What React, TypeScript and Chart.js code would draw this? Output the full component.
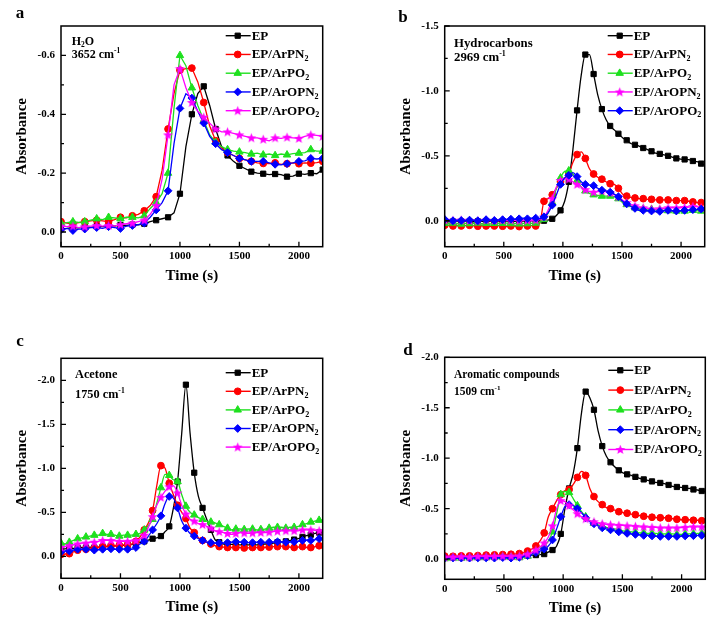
import React, { useEffect, useRef } from 'react';
import { Chart, registerables } from 'chart.js';

Chart.register(...registerables);

const FONT = "'Liberation Serif', 'Times New Roman', Times, serif";
const BLACK = '#000000';
const RED = '#ff0000';
const GREEN = '#1ee01e';
const BLUE = '#0000ff';
const MAGENTA = '#ff00ff';

// ---------- Panel a (H2O, 3652 cm-1) ----------
const TIME_A = [0, 50, 100, 150, 200, 250, 300, 350, 400, 450, 500, 550, 600, 650, 700, 750, 800, 850, 900, 950,
  1000, 1050, 1100, 1150, 1200, 1250, 1300, 1350, 1400, 1450, 1500, 1550, 1600, 1650, 1700, 1750, 1800, 1850, 1900, 1950,
  2000, 2050, 2100, 2150, 2200];
const A_EP = [-0.010, -0.012, -0.015, -0.014, -0.018, -0.016, -0.020, -0.018, -0.022, -0.020,
  -0.024, -0.022, -0.025, -0.024, -0.028, -0.035, -0.040, -0.045, -0.050, -0.065,
  -0.13, -0.29, -0.40, -0.47, -0.495, -0.43, -0.35, -0.29, -0.26, -0.24,
  -0.225, -0.215, -0.205, -0.2, -0.198, -0.195, -0.197, -0.195, -0.188, -0.19,
  -0.198, -0.196, -0.2, -0.198, -0.212];
const A_ARPN2 = [-0.035, -0.03, -0.028, -0.032, -0.035, -0.038, -0.04, -0.038, -0.035, -0.042,
  -0.05, -0.048, -0.055, -0.06, -0.072, -0.09, -0.12, -0.21, -0.35, -0.47,
  -0.55, -0.555, -0.557, -0.51, -0.44, -0.36, -0.31, -0.285, -0.27, -0.26,
  -0.25, -0.245, -0.24, -0.235, -0.233, -0.232, -0.235, -0.23, -0.232, -0.235,
  -0.232, -0.235, -0.234, -0.236, -0.24];
const A_ARPO2 = [-0.03, -0.032, -0.035, -0.033, -0.035, -0.04, -0.045, -0.042, -0.05, -0.048,
  -0.045, -0.05, -0.05, -0.048, -0.055, -0.08, -0.1, -0.13, -0.2, -0.42,
  -0.6, -0.565, -0.49, -0.43, -0.38, -0.33, -0.305, -0.29, -0.28, -0.275,
  -0.272, -0.27, -0.265, -0.268, -0.262, -0.265, -0.26, -0.265, -0.262, -0.266,
  -0.268, -0.27, -0.28, -0.275, -0.275];
const A_AROPN2 = [-0.008, -0.012, -0.005, -0.01, -0.01, -0.015, -0.015, -0.012, -0.018, -0.015,
  -0.012, -0.02, -0.022, -0.025, -0.03, -0.05, -0.075, -0.1, -0.14, -0.3,
  -0.42, -0.47, -0.455, -0.41, -0.37, -0.325, -0.3, -0.28, -0.27, -0.26,
  -0.25, -0.245, -0.24, -0.24, -0.24, -0.235, -0.23, -0.228, -0.232, -0.235,
  -0.24, -0.242, -0.25, -0.248, -0.25];
const A_AROPO2 = [-0.02, -0.018, -0.02, -0.015, -0.018, -0.02, -0.022, -0.02, -0.022, -0.02,
  -0.025, -0.028, -0.03, -0.035, -0.04, -0.06, -0.09, -0.18, -0.33, -0.5,
  -0.555, -0.49, -0.44, -0.41, -0.39, -0.37, -0.35, -0.34, -0.34, -0.335,
  -0.33, -0.325, -0.32, -0.32, -0.315, -0.31, -0.32, -0.318, -0.322, -0.32,
  -0.318, -0.325, -0.33, -0.328, -0.325];

// ---------- Shared time grid for panels b, c, d ----------
const TIME_BCD = [0, 35, 70, 105, 140, 175, 210, 245,
  280, 315, 350, 385, 420, 455, 490, 525,
  560, 595, 630, 665, 700, 735, 770, 805,
  840, 875, 910, 945, 980, 1015, 1050, 1085,
  1120, 1155, 1190, 1225, 1260, 1295, 1330, 1365,
  1400, 1435, 1470, 1505, 1540, 1575, 1610, 1645,
  1680, 1715, 1750, 1785, 1820, 1855, 1890, 1925,
  1960, 1995, 2030, 2065, 2100, 2135, 2170, 2205];

// ---------- Panel b (Hydrocarbons, 2969 cm-1) ----------
const B_EP = [0.005, 0.008, 0.006, 0.004, 0.007, 0.005, 0.006, 0.008,
  0.005, 0.004, 0.006, 0.005, 0.007, 0.006, 0.004, 0.005,
  0.006, 0.005, 0.004, 0.003, 0.002, 0.0, 0.0, 0.0,
  0.0, -0.005, -0.015, -0.04, -0.08, -0.15, -0.3, -0.55,
  -0.85, -1.12, -1.28, -1.28, -1.13, -0.97, -0.86, -0.78,
  -0.73, -0.7, -0.67, -0.64, -0.62, -0.595, -0.585, -0.575,
  -0.56, -0.548, -0.535, -0.52, -0.515, -0.508, -0.5, -0.49,
  -0.48, -0.475, -0.472, -0.47, -0.46, -0.455, -0.44, -0.43];
const B_ARPN2 = [0.035, 0.038, 0.04, 0.035, 0.04, 0.038, 0.035, 0.04,
  0.042, 0.038, 0.04, 0.045, 0.04, 0.038, 0.042, 0.045,
  0.04, 0.042, 0.045, 0.04, 0.04, 0.038, 0.04, 0.02,
  -0.15, -0.17, -0.2, -0.25, -0.3, -0.33, -0.36, -0.45,
  -0.51, -0.53, -0.48, -0.4, -0.36, -0.335, -0.32, -0.3,
  -0.285, -0.28, -0.25, -0.205, -0.19, -0.18, -0.175, -0.17,
  -0.17, -0.165, -0.165, -0.16, -0.16, -0.16, -0.16, -0.158,
  -0.155, -0.155, -0.155, -0.15, -0.145, -0.14, -0.14, -0.14];
const B_ARPO2 = [0.02, 0.022, 0.018, 0.02, 0.025, 0.02, 0.022, 0.02,
  0.018, 0.022, 0.02, 0.024, 0.02, 0.022, 0.02, 0.018,
  0.022, 0.02, 0.024, 0.02, 0.022, 0.02, 0.018, 0.015,
  -0.01, -0.06, -0.14, -0.25, -0.33, -0.38, -0.385, -0.36,
  -0.31, -0.26, -0.23, -0.21, -0.2, -0.195, -0.19, -0.19,
  -0.19, -0.185, -0.17, -0.14, -0.125, -0.115, -0.1, -0.09,
  -0.09, -0.09, -0.088, -0.085, -0.082, -0.08, -0.078, -0.075,
  -0.075, -0.072, -0.075, -0.078, -0.08, -0.078, -0.075, -0.075];
const B_AROPN2 = [-0.005, 0.0, -0.003, 0.0, -0.005, 0.0, -0.002, -0.005,
  0.0, -0.003, -0.005, 0.0, -0.002, 0.0, -0.004, 0.0,
  -0.003, -0.002, 0.0, -0.003, -0.002, 0.0, -0.005, -0.01,
  -0.03, -0.08, -0.17, -0.26, -0.31, -0.33, -0.32, -0.3,
  -0.28, -0.26, -0.24, -0.225, -0.22, -0.225, -0.23, -0.225,
  -0.215, -0.2, -0.185, -0.16, -0.14, -0.125, -0.115, -0.105,
  -0.1, -0.095, -0.09, -0.09, -0.092, -0.095, -0.1, -0.1,
  -0.1, -0.1, -0.102, -0.105, -0.11, -0.108, -0.1, -0.1];
const B_AROPO2 = [-0.01, -0.005, 0.0, -0.005, -0.002, 0.0, -0.005, -0.003,
  0.0, -0.005, -0.008, -0.005, -0.002, -0.005, -0.008, -0.01,
  -0.012, -0.01, -0.015, -0.02, -0.015, -0.02, -0.02, -0.015,
  -0.03, -0.06, -0.12, -0.2, -0.28, -0.33, -0.35, -0.37,
  -0.34, -0.3, -0.28, -0.275, -0.27, -0.25, -0.235, -0.23,
  -0.22, -0.205, -0.185, -0.15, -0.13, -0.11, -0.095, -0.08,
  -0.08, -0.078, -0.075, -0.07, -0.072, -0.078, -0.08, -0.078,
  -0.075, -0.078, -0.08, -0.082, -0.085, -0.088, -0.09, -0.09];

// ---------- Panel c (Acetone, 1750 cm-1) ----------
const C_EP = [-0.08, -0.085, -0.09, -0.09, -0.095, -0.1, -0.1, -0.105,
  -0.1, -0.105, -0.11, -0.11, -0.115, -0.12, -0.12, -0.125,
  -0.13, -0.135, -0.145, -0.155, -0.17, -0.185, -0.2, -0.21,
  -0.23, -0.28, -0.34, -0.55, -0.85, -1.4, -1.95, -1.4,
  -0.95, -0.68, -0.55, -0.42, -0.3, -0.19, -0.16, -0.14,
  -0.14, -0.135, -0.135, -0.13, -0.13, -0.13, -0.13, -0.13,
  -0.135, -0.14, -0.14, -0.15, -0.16, -0.165, -0.17, -0.18,
  -0.19, -0.2, -0.22, -0.235, -0.245, -0.26, -0.27, -0.27];
const C_ARPN2 = [-0.02, -0.025, -0.03, -0.05, -0.07, -0.075, -0.08, -0.085,
  -0.09, -0.1, -0.11, -0.115, -0.12, -0.12, -0.125, -0.13,
  -0.13, -0.14, -0.17, -0.22, -0.3, -0.38, -0.52, -0.8,
  -1.03, -1.0, -0.83, -0.7, -0.58, -0.5, -0.43, -0.32,
  -0.27, -0.21, -0.18, -0.16, -0.14, -0.12, -0.11, -0.105,
  -0.1, -0.1, -0.1, -0.1, -0.095, -0.095, -0.1, -0.1,
  -0.1, -0.1, -0.105, -0.11, -0.11, -0.115, -0.11, -0.105,
  -0.1, -0.105, -0.11, -0.1, -0.1, -0.11, -0.12, -0.12];
const C_ARPO2 = [-0.15, -0.14, -0.16, -0.18, -0.2, -0.21, -0.22, -0.23,
  -0.24, -0.24, -0.26, -0.25, -0.25, -0.24, -0.23, -0.24,
  -0.24, -0.24, -0.25, -0.26, -0.3, -0.35, -0.42, -0.6,
  -0.78, -0.93, -0.92, -0.87, -0.85, -0.7, -0.57, -0.5,
  -0.47, -0.44, -0.42, -0.4, -0.39, -0.38, -0.36, -0.34,
  -0.32, -0.3, -0.31, -0.31, -0.305, -0.31, -0.31, -0.3,
  -0.305, -0.31, -0.32, -0.33, -0.33, -0.33, -0.32, -0.33,
  -0.33, -0.34, -0.36, -0.37, -0.39, -0.4, -0.41, -0.41];
const C_AROPN2 = [-0.05, -0.06, -0.06, -0.07, -0.08, -0.08, -0.08, -0.075,
  -0.07, -0.075, -0.08, -0.08, -0.085, -0.08, -0.08, -0.085,
  -0.08, -0.08, -0.1, -0.14, -0.17, -0.23, -0.3, -0.37,
  -0.46, -0.6, -0.68, -0.66, -0.55, -0.4, -0.32, -0.26,
  -0.23, -0.2, -0.18, -0.16, -0.155, -0.15, -0.15, -0.15,
  -0.155, -0.16, -0.165, -0.16, -0.16, -0.155, -0.155, -0.16,
  -0.16, -0.155, -0.16, -0.16, -0.165, -0.16, -0.16, -0.165,
  -0.165, -0.17, -0.18, -0.185, -0.18, -0.19, -0.2, -0.2];
const C_AROPO2 = [-0.1, -0.11, -0.12, -0.13, -0.14, -0.15, -0.15, -0.16,
  -0.16, -0.17, -0.18, -0.18, -0.18, -0.175, -0.17, -0.17,
  -0.17, -0.175, -0.18, -0.2, -0.24, -0.33, -0.45, -0.58,
  -0.67, -0.74, -0.79, -0.8, -0.72, -0.58, -0.48, -0.42,
  -0.4, -0.37, -0.36, -0.34, -0.32, -0.29, -0.28, -0.27,
  -0.26, -0.25, -0.26, -0.27, -0.265, -0.26, -0.265, -0.27,
  -0.27, -0.27, -0.275, -0.28, -0.285, -0.29, -0.29, -0.29,
  -0.29, -0.29, -0.3, -0.3, -0.3, -0.295, -0.29, -0.29];

// ---------- Panel d (Aromatic compounds, 1509 cm-1) ----------
const D_EP = [-0.02, -0.02, -0.022, -0.02, -0.022, -0.025, -0.022, -0.025,
  -0.025, -0.028, -0.025, -0.028, -0.03, -0.028, -0.03, -0.03,
  -0.032, -0.03, -0.035, -0.035, -0.038, -0.04, -0.04, -0.045,
  -0.05, -0.07, -0.09, -0.13, -0.25, -0.5, -0.7, -0.85,
  -1.1, -1.45, -1.66, -1.6, -1.48, -1.27, -1.12, -1.02,
  -0.96, -0.915, -0.88, -0.855, -0.84, -0.83, -0.815, -0.8,
  -0.79, -0.78, -0.77, -0.76, -0.755, -0.748, -0.735, -0.72,
  -0.715, -0.71, -0.705, -0.7, -0.69, -0.685, -0.675, -0.67];
const D_ARPN2 = [-0.03, -0.03, -0.028, -0.03, -0.032, -0.03, -0.032, -0.035,
  -0.035, -0.038, -0.04, -0.04, -0.042, -0.042, -0.045, -0.045,
  -0.048, -0.05, -0.055, -0.065, -0.08, -0.1, -0.13, -0.18,
  -0.26, -0.42, -0.5, -0.58, -0.64, -0.68, -0.69, -0.74,
  -0.81, -0.87, -0.83, -0.7, -0.62, -0.57, -0.54, -0.51,
  -0.5, -0.485, -0.47, -0.46, -0.455, -0.445, -0.44, -0.43,
  -0.425, -0.42, -0.415, -0.412, -0.41, -0.41, -0.405, -0.4,
  -0.395, -0.39, -0.39, -0.39, -0.385, -0.385, -0.38, -0.38];
const D_ARPO2 = [-0.005, -0.01, -0.01, -0.012, -0.01, -0.015, -0.012, -0.015,
  -0.015, -0.018, -0.015, -0.018, -0.02, -0.018, -0.02, -0.02,
  -0.018, -0.015, -0.015, -0.02, -0.03, -0.045, -0.07, -0.1,
  -0.13, -0.18, -0.27, -0.45, -0.64, -0.67, -0.66, -0.6,
  -0.53, -0.47, -0.42, -0.38, -0.355, -0.34, -0.33, -0.315,
  -0.305, -0.3, -0.29, -0.28, -0.275, -0.27, -0.265, -0.26,
  -0.26, -0.255, -0.255, -0.255, -0.25, -0.25, -0.25, -0.25,
  -0.245, -0.245, -0.25, -0.25, -0.252, -0.255, -0.255, -0.26];
const D_AROPN2 = [-0.01, -0.01, -0.012, -0.01, -0.01, -0.012, -0.01, -0.015,
  -0.012, -0.01, -0.012, -0.015, -0.01, -0.012, -0.015, -0.012,
  -0.01, -0.015, -0.018, -0.025, -0.035, -0.05, -0.065, -0.08,
  -0.1, -0.13, -0.19, -0.3, -0.42, -0.52, -0.54, -0.53,
  -0.5, -0.46, -0.41, -0.37, -0.35, -0.33, -0.31, -0.3,
  -0.29, -0.28, -0.27, -0.26, -0.255, -0.25, -0.245, -0.24,
  -0.235, -0.235, -0.23, -0.225, -0.225, -0.225, -0.225, -0.225,
  -0.225, -0.228, -0.23, -0.23, -0.232, -0.235, -0.235, -0.24];
const D_AROPO2 = [-0.02, -0.02, -0.022, -0.02, -0.025, -0.025, -0.022, -0.025,
  -0.028, -0.025, -0.028, -0.025, -0.03, -0.028, -0.03, -0.028,
  -0.03, -0.03, -0.032, -0.04, -0.05, -0.065, -0.09, -0.12,
  -0.16, -0.22, -0.33, -0.5, -0.58, -0.57, -0.53, -0.49,
  -0.45, -0.42, -0.4, -0.38, -0.37, -0.36, -0.35, -0.345,
  -0.34, -0.34, -0.335, -0.335, -0.33, -0.33, -0.325, -0.32,
  -0.32, -0.318, -0.315, -0.315, -0.31, -0.31, -0.31, -0.31,
  -0.31, -0.312, -0.315, -0.32, -0.32, -0.32, -0.32, -0.32];

// ---------- Axis ticks ----------
const X_TICKS = [0, 500, 1000, 1500, 2000];
const X_MINOR = [250, 750, 1250, 1750];
const A_Y_TICKS = [-0.6, -0.4, -0.2, 0];
const A_Y_MINOR = [-0.5, -0.3, -0.1];
const B_Y_TICKS = [-1.5, -1.0, -0.5, 0];
const B_Y_MINOR = [-1.25, -0.75, -0.25];
const CD_Y_TICKS = [-2.0, -1.5, -1.0, -0.5, 0];
const CD_Y_MINOR = [-1.75, -1.25, -0.75, -0.25];

type Part = [string, string];

const RADIUS: Record<string, number> = { rect: 3.7, circle: 3.4, triangle: 4.3, rectRot: 3.9, star: 4 };

function makeStar(color: string) {
  const c = document.createElement('canvas');
  c.width = 11;
  c.height = 11;
  const g = c.getContext('2d')!;
  g.fillStyle = color;
  g.beginPath();
  for (let i = 0; i < 10; i++) {
    const r = i % 2 === 0 ? 5.2 : 2.2;
    const a = -Math.PI / 2 + (i * Math.PI) / 5;
    const px = 5.5 + r * Math.cos(a);
    const py = 5.9 + r * Math.sin(a);
    if (i === 0) g.moveTo(px, py);
    else g.lineTo(px, py);
  }
  g.closePath();
  g.fill();
  return c;
}

function drawMarker(ctx: CanvasRenderingContext2D, style: string, x: number, y: number, color: string, star: HTMLCanvasElement) {
  ctx.save();
  if (style === 'star') {
    ctx.drawImage(star, x - star.width / 2, y - star.height / 2);
    ctx.restore();
    return;
  }
  const r = RADIUS[style];
  ctx.fillStyle = color;
  ctx.strokeStyle = color;
  ctx.lineWidth = 1;
  ctx.beginPath();
  if (style === 'rect') {
    const s = r * Math.SQRT1_2;
    ctx.rect(x - s, y - s, 2 * s, 2 * s);
  } else if (style === 'circle') {
    ctx.arc(x, y, r, 0, Math.PI * 2);
  } else if (style === 'triangle') {
    for (let i = 0; i < 3; i++) {
      const a = (i * 2 * Math.PI) / 3;
      const px = x + Math.sin(a) * r;
      const py = y - Math.cos(a) * r;
      if (i === 0) ctx.moveTo(px, py);
      else ctx.lineTo(px, py);
    }
    ctx.closePath();
  } else {
    ctx.moveTo(x, y - r);
    ctx.lineTo(x + r, y);
    ctx.lineTo(x, y + r);
    ctx.lineTo(x - r, y);
    ctx.closePath();
  }
  ctx.fill();
  ctx.stroke();
  ctx.restore();
}

function drawRich(ctx: CanvasRenderingContext2D, x: number, y: number, parts: Part[], size: number) {
  ctx.textAlign = 'left';
  ctx.textBaseline = 'middle';
  ctx.fillStyle = '#000';
  let cx = x;
  for (const [t, k] of parts) {
    const s = k ? size * 0.62 : size;
    ctx.font = `bold ${s}px ${FONT}`;
    const dy = k === 'sub' ? size * 0.32 : k === 'sup' ? -size * 0.3 : 0;
    ctx.fillText(t, cx, y + dy);
    cx += ctx.measureText(t).width;
  }
}

interface Series { name: string; sub: string; values: number[]; color: string; marker: string }
interface Panel {
  letter: string; letterX: number; letterY: number;
  L: number; T: number; R: number; B: number;
  yMin: number; yMax: number; yTicks: number[]; yMinor: number[];
  times: number[]; smooth: boolean; markEvery: number;
  series: Series[];
  notes: { parts: Part[]; dy: number }[]; noteDx: number; noteSize: number;
  legendTop: number; legendStep: number;
}

const NAMES = ['EP', 'EP/ArPN', 'EP/ArPO', 'EP/ArOPN', 'EP/ArOPO'];

const PANELS: Panel[] = [
  {
    letter: 'a', letterX: 20, letterY: 14, L: 61, T: 26, R: 322.7, B: 246.7,
    yMin: -0.7, yMax: 0.05, yTicks: A_Y_TICKS, yMinor: A_Y_MINOR,
    times: TIME_A, smooth: false, markEvery: 2,
    series: [
      { name: NAMES[0], sub: '', values: A_EP, color: BLACK, marker: 'rect' },
      { name: NAMES[1], sub: '2', values: A_ARPN2, color: RED, marker: 'circle' },
      { name: NAMES[2], sub: '2', values: A_ARPO2, color: GREEN, marker: 'triangle' },
      { name: NAMES[3], sub: '2', values: A_AROPN2, color: BLUE, marker: 'rectRot' },
      { name: NAMES[4], sub: '2', values: A_AROPO2, color: MAGENTA, marker: 'star' },
    ],
    notes: [
      { parts: [['H', ''], ['2', 'sub'], ['O', '']], dy: 15.7 },
      { parts: [['3652 cm', ''], ['-1', 'sup']], dy: 29 },
    ],
    noteDx: 10.7, noteSize: 12, legendTop: 9.7, legendStep: 18.75,
  },
  {
    letter: 'b', letterX: 403, letterY: 18, L: 444.7, T: 26, R: 704.7, B: 246.7,
    yMin: -1.5, yMax: 0.2, yTicks: B_Y_TICKS, yMinor: B_Y_MINOR,
    times: TIME_BCD, smooth: true, markEvery: 2,
    series: [
      { name: NAMES[0], sub: '', values: B_EP, color: BLACK, marker: 'rect' },
      { name: NAMES[1], sub: '2', values: B_ARPN2, color: RED, marker: 'circle' },
      { name: NAMES[2], sub: '2', values: B_ARPO2, color: GREEN, marker: 'triangle' },
      { name: NAMES[3], sub: '2', values: B_AROPN2, color: MAGENTA, marker: 'star' },
      { name: NAMES[4], sub: '2', values: B_AROPO2, color: BLUE, marker: 'rectRot' },
    ],
    notes: [
      { parts: [['Hydrocarbons', '']], dy: 18 },
      { parts: [['2969 cm', ''], ['-1', 'sup']], dy: 31.3 },
    ],
    noteDx: 9.3, noteSize: 12.8, legendTop: 9.7, legendStep: 18.75,
  },
  {
    letter: 'c', letterX: 20, letterY: 342, L: 61, T: 358.3, R: 322.7, B: 578.3,
    yMin: -2.25, yMax: 0.25, yTicks: CD_Y_TICKS, yMinor: CD_Y_MINOR,
    times: TIME_BCD, smooth: true, markEvery: 2,
    series: [
      { name: NAMES[0], sub: '', values: C_EP, color: BLACK, marker: 'rect' },
      { name: NAMES[1], sub: '2', values: C_ARPN2, color: RED, marker: 'circle' },
      { name: NAMES[2], sub: '2', values: C_ARPO2, color: GREEN, marker: 'triangle' },
      { name: NAMES[3], sub: '2', values: C_AROPN2, color: BLUE, marker: 'rectRot' },
      { name: NAMES[4], sub: '2', values: C_AROPO2, color: MAGENTA, marker: 'star' },
    ],
    notes: [
      { parts: [['Acetone', '']], dy: 17 },
      { parts: [['1750 cm', ''], ['-1', 'sup']], dy: 36.4 },
    ],
    noteDx: 14, noteSize: 12.3, legendTop: 14.4, legendStep: 18.6,
  },
  {
    letter: 'd', letterX: 408, letterY: 351, L: 444.7, T: 357.3, R: 705.3, B: 579.3,
    yMin: -2.0, yMax: 0.2, yTicks: CD_Y_TICKS, yMinor: CD_Y_MINOR,
    times: TIME_BCD, smooth: true, markEvery: 2,
    series: [
      { name: NAMES[0], sub: '', values: D_EP, color: BLACK, marker: 'rect' },
      { name: NAMES[1], sub: '2', values: D_ARPN2, color: RED, marker: 'circle' },
      { name: NAMES[2], sub: '2', values: D_ARPO2, color: GREEN, marker: 'triangle' },
      { name: NAMES[3], sub: '2', values: D_AROPN2, color: BLUE, marker: 'rectRot' },
      { name: NAMES[4], sub: '2', values: D_AROPO2, color: MAGENTA, marker: 'star' },
    ],
    notes: [
      { parts: [['Aromatic compounds', '']], dy: 17.4 },
      { parts: [['1509 cm', ''], ['-1', 'sup']], dy: 34.7 },
    ],
    noteDx: 9.3, noteSize: 11.5, legendTop: 13, legendStep: 19.8,
  },
];

const W = 718;
const H = 623;
const Y_AXIS_W = 61;
const X_AXIS_H = 45;

function buildChart(canvas: HTMLCanvasElement, p: Panel) {
  const stars: Record<string, HTMLCanvasElement> = {};
  p.series.forEach((s) => { if (s.marker === 'star') stars[s.color] = makeStar(s.color); });
  const zeroPad = (s: any) => { s.paddingLeft = 0; s.paddingRight = 0; s.paddingTop = 0; s.paddingBottom = 0; };

  const overlay = {
    id: 'overlay' + p.letter,
    afterDraw(chart: any) {
      const ctx: CanvasRenderingContext2D = chart.ctx;
      const ca = chart.chartArea;
      const xs = chart.scales.x;
      const ys = chart.scales.y;
      ctx.save();
      ctx.strokeStyle = '#000';
      ctx.lineWidth = 1.3;
      ctx.beginPath();
      X_TICKS.forEach((v) => { const px = xs.getPixelForValue(v); ctx.moveTo(px, ca.bottom); ctx.lineTo(px, ca.bottom - 5); });
      X_MINOR.forEach((v) => { const px = xs.getPixelForValue(v); ctx.moveTo(px, ca.bottom); ctx.lineTo(px, ca.bottom - 3); });
      p.yTicks.forEach((v) => { const py = ys.getPixelForValue(v); ctx.moveTo(ca.left, py); ctx.lineTo(ca.left + 5, py); });
      p.yMinor.forEach((v) => { const py = ys.getPixelForValue(v); ctx.moveTo(ca.left, py); ctx.lineTo(ca.left + 3, py); });
      ctx.stroke();
      ctx.lineWidth = 1.5;
      ctx.strokeRect(ca.left, ca.top, ca.right - ca.left, ca.bottom - ca.top);
      p.series.forEach((s, i) => {
        const y = ca.top + p.legendTop + i * p.legendStep;
        ctx.strokeStyle = s.color;
        ctx.lineWidth = 1.4;
        ctx.beginPath();
        ctx.moveTo(ca.right - 97, y);
        ctx.lineTo(ca.right - 72, y);
        ctx.stroke();
        drawMarker(ctx, s.marker, ca.right - 85, y, s.color, stars[s.color]);
        const parts: Part[] = [[s.name, '']];
        if (s.sub) parts.push([s.sub, 'sub']);
        drawRich(ctx, ca.right - 71, y + 0.5, parts, 13);
      });
      p.notes.forEach((n) => drawRich(ctx, ca.left + p.noteDx, ca.top + n.dy, n.parts, p.noteSize));
      ctx.font = `bold 17px ${FONT}`;
      ctx.fillStyle = '#000';
      ctx.textAlign = 'center';
      ctx.textBaseline = 'middle';
      ctx.fillText(p.letter, p.letterX, p.letterY);
      ctx.restore();
    },
  };

  return new Chart(canvas, {
    type: 'line',
    data: {
      datasets: p.series.map((s, i) => ({
        label: s.name + s.sub,
        data: p.times.map((t, j) => ({ x: t, y: s.values[j] })),
        borderColor: s.color,
        backgroundColor: s.color,
        borderWidth: 1.3,
        pointStyle: s.marker === 'star' ? stars[s.color] : s.marker,
        pointRadius: (c: any) => (c.dataIndex % p.markEvery === 0 ? RADIUS[s.marker] : 0),
        pointBorderWidth: 1,
        pointBorderColor: s.color,
        pointBackgroundColor: s.color,
        tension: 0,
        cubicInterpolationMode: p.smooth ? 'monotone' : 'default',
        order: p.series.length - 1 - i,
      })) as any,
    },
    options: {
      animation: false,
      responsive: false,
      maintainAspectRatio: false,
      events: [],
      layout: {
        padding: { left: p.L - Y_AXIS_W, top: p.T, right: W - p.R, bottom: H - p.B - X_AXIS_H },
      },
      plugins: { legend: { display: false }, tooltip: { enabled: false } },
      scales: {
        x: {
          type: 'linear',
          min: 0,
          max: 2200,
          afterBuildTicks: (s: any) => { s.ticks = X_TICKS.map((v) => ({ value: v })); },
          afterFit: (s: any) => { s.height = X_AXIS_H; zeroPad(s); },
          grid: { display: false, drawTicks: false },
          border: { display: false },
          ticks: {
            font: { family: FONT, size: 11, weight: 'bold' },
            color: '#000',
            padding: 3,
            maxRotation: 0,
            autoSkip: false,
            callback: (v: any) => String(v),
          },
          title: {
            display: true,
            text: 'Time (s)',
            font: { family: FONT, size: 15, weight: 'bold' },
            color: '#000',
            padding: { top: 0, bottom: 6.7 },
          },
        },
        y: {
          type: 'linear',
          reverse: true,
          min: p.yMin,
          max: p.yMax,
          afterBuildTicks: (s: any) => { s.ticks = p.yTicks.map((v) => ({ value: v })); },
          afterFit: (s: any) => { s.width = Y_AXIS_W; zeroPad(s); },
          grid: { display: false, drawTicks: false },
          border: { display: false },
          ticks: {
            font: { family: FONT, size: 11, weight: 'bold' },
            color: '#000',
            padding: 6,
            autoSkip: false,
            callback: (v: any) => Number(v).toFixed(1),
          },
          title: {
            display: true,
            text: 'Absorbance',
            font: { family: FONT, size: 15, weight: 'bold' },
            color: '#000',
            padding: { top: 13.4, bottom: 0 },
          },
        },
      },
    } as any,
    plugins: [overlay],
  });
}

export default function App() {
  const refs = [useRef<HTMLCanvasElement>(null), useRef<HTMLCanvasElement>(null), useRef<HTMLCanvasElement>(null), useRef<HTMLCanvasElement>(null)];

  useEffect(() => {
    const charts = PANELS.map((p, i) => buildChart(refs[i].current!, p));
    return () => charts.forEach((c) => c.destroy());
  }, []);

  return (
    <div style={{ position: 'fixed', left: 0, top: 0, width: W, height: H, background: '#fff' }}>
      {PANELS.map((p, i) => (
        <canvas
          key={p.letter}
          ref={refs[i]}
          width={W}
          height={H}
          style={{ position: 'absolute', left: 0, top: 0, width: W, height: H }}
        />
      ))}
    </div>
  );
}
